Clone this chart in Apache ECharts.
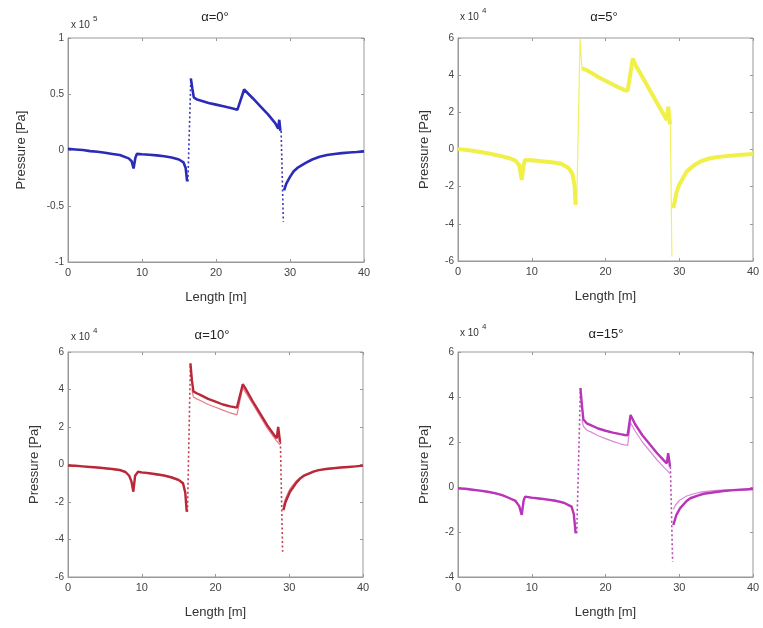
<!DOCTYPE html>
<html>
<head>
<meta charset="utf-8">
<script src="https://cdn.jsdelivr.net/npm/echarts@6/dist/echarts.min.js"></script>
<style>
html,body{margin:0;padding:0;background:#fff;}
#chart{width:763px;height:628px;}
</style>
</head>
<body>
<div id="chart"></div>
<script>
// Panel titles and exponents
const titles = ['α=0°', 'α=5°', 'α=10°', 'α=15°'];
const exponents = ['5', '4', '4', '4'];
const xTicks = [0, 10, 20, 30, 40];
const yRanges = [[-1, 1, 0.5], [-6, 6, 2], [-6, 6, 2], [-4, 6, 2]];

// α=0° (x 10^5 Pa) — solid curve, null = break
const curve0 = [[0,0.01],[1,0.005],[2,0],[3,-0.01],[4,-0.015],[5,-0.025],[6,-0.035],[7,-0.045],[8.2,-0.075],[8.6,-0.1],[8.86,-0.165],[9.1,-0.07],[9.3,-0.035],[10,-0.038],[11,-0.042],[12,-0.048],[13,-0.056],[14,-0.067],[15,-0.085],[15.6,-0.11],[15.9,-0.16],[16.1,-0.28],
  null,
  [16.6,0.64],[16.8,0.55],[17.0,0.47],[17.45,0.45],[18,0.44],[19,0.42],[20,0.405],[21,0.39],[22,0.375],[22.9,0.36],[23.1,0.36],[23.8,0.54],[24,0.53],[25,0.46],[26,0.39],[27,0.32],[28,0.24],[28.4,0.19],[28.55,0.27],[28.7,0.17],
  null,
  [29.2,-0.36],[29.5,-0.3],[30,-0.24],[30.5,-0.19],[31,-0.16],[32,-0.12],[33,-0.085],[34,-0.06],[35,-0.045],[36,-0.035],[37,-0.028],[38,-0.022],[39,-0.018],[40,-0.012]];
const jumps0 = [[16.2,-0.28],[16.6,0.64],null,[28.8,0.17],[29.1,-0.64]];

// α=5° (x 10^4 Pa)
const curve5 = [[0,0.03],[1,-0.02],[2,-0.07],[3,-0.13],[4,-0.2],[5,-0.28],[6,-0.37],[7,-0.47],[7.8,-0.6],[8.3,-0.85],[8.64,-1.64],[8.9,-0.8],[9.1,-0.56],[10,-0.58],[11,-0.62],[12,-0.66],[13,-0.7],[14,-0.77],[15,-1.0],[15.5,-1.3],[15.8,-1.9],[15.95,-2.98],
  null,
  [16.8,4.36],[17.45,4.27],[18,4.15],[19,3.9],[20,3.7],[21,3.5],[22,3.3],[22.6,3.2],[23.0,3.15],[23.7,4.9],[24,4.6],[25.1,3.83],[26,3.2],[26.9,2.57],[28,1.8],[28.3,1.59],[28.5,2.3],[28.75,1.35],
  null,
  [29.2,-3.16],[29.65,-2.27],[30,-1.9],[31,-1.19],[32,-0.85],[33,-0.62],[34.2,-0.47],[35,-0.42],[36,-0.37],[37,-0.33],[38,-0.3],[39,-0.27],[40,-0.24]];
const jumps5 = [[16.1,-2.98],[16.55,5.95],[16.8,4.36],null,[28.8,1.35],[29.0,-5.76]];

// α=10° (x 10^4 Pa) — two curves
const curve10 = [[0,-0.05],[1,-0.07],[2,-0.1],[3,-0.13],[4,-0.16],[5,-0.2],[6,-0.24],[7,-0.29],[7.8,-0.4],[8.3,-0.6],[8.6,-0.9],[8.86,-1.45],[9.1,-0.6],[9.5,-0.38],[10,-0.42],[11,-0.46],[12,-0.52],[13,-0.58],[14,-0.68],[15,-0.82],[15.6,-1.0],[15.9,-1.5],[16.1,-2.52],
  null,
  [16.6,5.4],[16.8,4.5],[17.0,3.9],[17.45,3.8],[18,3.7],[19,3.5],[20,3.35],[21,3.2],[22,3.1],[22.9,3.03],[23.1,3.0],[23.7,4.28],[24,4.1],[25,3.4],[26,2.75],[27,2.1],[28,1.55],[28.3,1.4],[28.5,2.0],[28.75,1.2],
  null,
  [29.2,-2.43],[29.5,-2.0],[30.1,-1.45],[31,-0.95],[31.5,-0.74],[32,-0.6],[33.3,-0.38],[34,-0.3],[35,-0.24],[36,-0.2],[37,-0.16],[38,-0.13],[39,-0.1],[40,-0.06]];
const curve10b = [[0,-0.06],[2,-0.11],[4,-0.17],[6,-0.26],[7,-0.31],[7.8,-0.42],[8.3,-0.62],[8.6,-0.92],[8.86,-1.4],[9.1,-0.62],[9.5,-0.42],[11,-0.5],[13,-0.62],[14,-0.72],[15,-0.86],[15.6,-1.05],[15.9,-1.5],[16.1,-2.3],
  null,
  [16.8,4.0],[17.0,3.6],[17.45,3.5],[18,3.4],[19,3.2],[20,3.05],[21,2.9],[22,2.75],[22.9,2.65],[23.1,2.6],[23.7,4.1],[24,3.9],[25,3.25],[26,2.6],[27,1.95],[28,1.4],[28.3,1.25],[28.75,1.05],
  null,
  [29.2,-2.2],[29.5,-1.8],[30.1,-1.3],[31,-0.85],[32,-0.55],[33.3,-0.35],[35,-0.22],[37,-0.15],[40,-0.06]];
const jumps10 = [[16.2,-2.52],[16.6,5.4],null,[28.8,1.2],[29.1,-4.65]];

// α=15° (x 10^4 Pa) — two curves
const curve15 = [[0,-0.06],[1,-0.08],[2,-0.12],[3,-0.16],[4,-0.21],[5,-0.27],[6,-0.36],[7,-0.5],[7.8,-0.62],[8.3,-0.85],[8.64,-1.24],[8.9,-0.6],[9.1,-0.43],[10,-0.47],[11,-0.51],[12,-0.55],[13,-0.6],[13.8,-0.65],[14.5,-0.72],[15.4,-0.87],[15.7,-1.2],[15.95,-2.06],
  null,
  [16.6,4.39],[16.8,3.64],[17.0,3.0],[17.45,2.83],[18,2.75],[19,2.6],[20,2.5],[21,2.42],[22,2.35],[22.6,2.31],[23.0,2.3],[23.4,3.2],[24,2.8],[25,2.3],[26,1.9],[27,1.5],[28,1.15],[28.3,1.05],[28.5,1.5],[28.75,0.9],
  null,
  [29.2,-1.69],[29.6,-1.25],[30.1,-0.95],[31,-0.62],[31.5,-0.5],[32.5,-0.38],[33.3,-0.3],[35,-0.22],[36,-0.18],[37,-0.15],[38,-0.13],[39,-0.11],[40,-0.09]];
const curve15b = [[0,-0.07],[2,-0.13],[4,-0.22],[6,-0.37],[7,-0.5],[7.8,-0.62],[8.3,-0.85],[8.64,-1.2],[8.9,-0.6],[9.1,-0.45],[11,-0.53],[13,-0.62],[14.5,-0.74],[15.4,-0.9],[15.7,-1.2],[15.95,-1.9],
  null,
  [16.8,3.0],[17.0,2.7],[17.45,2.53],[18,2.45],[19,2.28],[20,2.15],[21,2.03],[22,1.92],[22.6,1.87],[23.0,1.85],[23.4,2.85],[24,2.5],[25,2.0],[26,1.6],[27,1.2],[28,0.85],[28.3,0.75],[28.75,0.6],
  null,
  [29.2,-1.0],[29.5,-0.8],[30,-0.6],[31,-0.4],[32,-0.3],[33,-0.22],[35,-0.15],[37,-0.12],[40,-0.08]];
const jumps15 = [[16.1,-2.06],[16.6,4.39],null,[28.8,0.9],[29.1,-3.32]];

const toData = arr => arr.map(p => p === null ? ['-', '-'] : p);

const grids = [
  {left: 68, top: 38, width: 296, height: 224},
  {left: 458, top: 38, width: 295, height: 223},
  {left: 68, top: 352, width: 295, height: 225},
  {left: 458, top: 352, width: 295, height: 225}
];
const yNameGaps = [40, 27, 27, 27];
const FONT = 'Liberation Sans, Arial, sans-serif';

const chart = echarts.init(document.getElementById('chart'));

const tickStyle = {show: true, inside: true, length: 3, lineStyle: {color: '#999'}};
const xAxes = [];
const yAxes = [];
grids.forEach((g, i) => {
  const xBase = {type: 'value', gridIndex: i, min: xTicks[0], max: xTicks[xTicks.length - 1], interval: xTicks[1] - xTicks[0], splitLine: {show: false}};
  const yBase = {type: 'value', gridIndex: i, min: yRanges[i][0], max: yRanges[i][1], interval: yRanges[i][2], splitLine: {show: false}};
  xAxes.push(Object.assign({}, xBase, {
    position: 'bottom',
    name: 'Length [m]', nameLocation: 'middle', nameGap: 29,
    nameTextStyle: {fontFamily: FONT, fontSize: 13, color: '#333'},
    axisLine: {show: true, onZero: false, lineStyle: {color: '#999', width: 1}},
    axisTick: tickStyle,
    axisLabel: {fontFamily: FONT, fontSize: 11, color: '#444', margin: 5}
  }));
  yAxes.push(Object.assign({}, yBase, {
    position: 'left',
    name: 'Pressure [Pa]', nameLocation: 'middle', nameGap: yNameGaps[i],
    nameTextStyle: {fontFamily: FONT, fontSize: 13, color: '#333'},
    axisLine: {show: true, onZero: false, lineStyle: {color: '#999', width: 1}},
    axisTick: tickStyle,
    axisLabel: {fontFamily: FONT, fontSize: 10, color: '#444', margin: 4}
  }));
});
// mirrored ticks on top and right edges
grids.forEach((g, i) => {
  xAxes.push({type: 'value', gridIndex: i, position: 'top', min: xTicks[0], max: xTicks[xTicks.length - 1], interval: xTicks[1] - xTicks[0],
    axisLine: {show: false, onZero: false}, axisTick: tickStyle, axisLabel: {show: false}, splitLine: {show: false}});
  yAxes.push({type: 'value', gridIndex: i, position: 'right', min: yRanges[i][0], max: yRanges[i][1], interval: yRanges[i][2],
    axisLine: {show: false, onZero: false}, axisTick: tickStyle, axisLabel: {show: false}, splitLine: {show: false}});
});

function solid(i, data, color, width, z) {
  return {type: 'line', xAxisIndex: i, yAxisIndex: i, data: toData(data), showSymbol: false,
    connectNulls: false, lineStyle: {color: color, width: width}, itemStyle: {color: color}, z: z || 2, animation: false};
}
function jump(i, data, color, width, type) {
  return {type: 'line', xAxisIndex: i, yAxisIndex: i, data: toData(data), showSymbol: false,
    connectNulls: false, lineStyle: {color: color, width: width, type: type}, itemStyle: {color: color}, z: 1, animation: false};
}

const series = [
  solid(0, curve0, '#2b2bb8', 2.6),
  jump(0, jumps0, '#3838b8', 1.6, [2, 2.5]),
  solid(1, curve5, '#f0f048', 4),
  jump(1, jumps5, '#f0f060', 1.2, 'solid'),
  solid(2, curve10b, '#e67a86', 1.2),
  solid(2, curve10, '#b82838', 2.4, 3),
  jump(2, jumps10, '#c04050', 1.6, [2, 2.5]),
  solid(3, curve15b, '#d98ad9', 1.2),
  solid(3, curve15, '#b834b8', 2.4, 3),
  jump(3, jumps15, '#b848b8', 1.6, [2, 2.5])
];

const titlePos = [[215, 17], [604, 17], [212, 335], [606, 334]];
const expPos = [[71, 25], [460, 17], [71, 337], [460, 333]];
const graphic = [];
titles.forEach((t, i) => {
  graphic.push({type: 'text', x: titlePos[i][0], y: titlePos[i][1],
    style: {text: t, font: '13px ' + FONT, fill: '#222', textAlign: 'center', textVerticalAlign: 'middle'}});
  graphic.push({type: 'text', x: expPos[i][0], y: expPos[i][1],
    style: {text: 'x 10', font: '10px ' + FONT, fill: '#333', textAlign: 'left', textVerticalAlign: 'middle'}});
  graphic.push({type: 'text', x: expPos[i][0] + 22, y: expPos[i][1] - 6,
    style: {text: exponents[i], font: '8px ' + FONT, fill: '#333', textAlign: 'left', textVerticalAlign: 'middle'}});
});

chart.setOption({
  animation: false,
  backgroundColor: '#fff',
  grid: grids.map(g => Object.assign({show: true, borderColor: '#999', borderWidth: 1, backgroundColor: '#fff'}, g)),
  xAxis: xAxes,
  yAxis: yAxes,
  series: series,
  graphic: graphic
});
</script>
</body>
</html>
